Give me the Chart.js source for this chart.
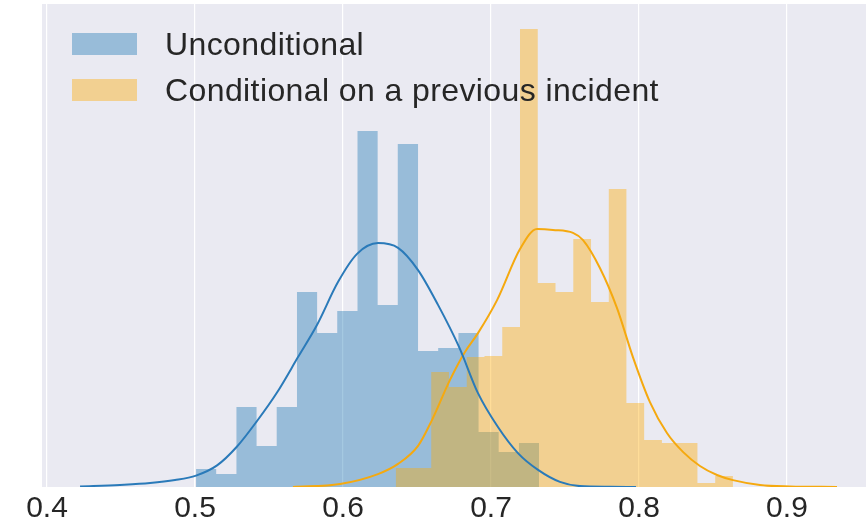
<!DOCTYPE html>
<html lang="en">
<head>
    <meta charset="UTF-8">
    <title>Unconditional vs conditional distribution</title>
    <style>
        body {
            margin: 0;
            background: #ffffff;
            font-family: "Liberation Sans", Arial, sans-serif;
        }
        .wrap {
            position: relative;
            width: 866px;
            height: 523px;
        }
        .legend {
            position: absolute;
            left: 72px;
            top: 21px;
            color: #262626;
            font-size: 32px;
            letter-spacing: 0.4px;
        }
        .legend .item {
            display: flex;
            align-items: center;
            height: 46px;
        }
        .legend .swatch {
            width: 65px;
            height: 22px;
            margin-right: 28px;
        }
    </style>
    <script src="https://cdn.jsdelivr.net/npm/chart.js"></script>
</head>
<body>
    <div class="wrap">
        <canvas id="chart"></canvas>
        <div class="legend">
            <div class="item"><span class="swatch" style="background: rgba(31,119,180,0.4)"></span>Unconditional</div>
            <div class="item"><span class="swatch" style="background: rgba(255,170,0,0.4)"></span>Conditional on a previous incident</div>
        </div>
    </div>

    <script>
        // x tick labels
        const xTicks = [0.4, 0.5, 0.6, 0.7, 0.8, 0.9];

        // unconditional histogram (bin edges and density per bin)
        const blueEdges = [0.5007, 0.5143, 0.5280, 0.5416, 0.5552, 0.5689, 0.5825, 0.5961, 0.6098,
            0.6234, 0.6370, 0.6507, 0.6643, 0.6780, 0.6916, 0.7052, 0.7189, 0.7325];
        const blueHeights = [0.60, 0.43, 2.67, 1.37, 2.67, 6.50, 5.13, 5.87, 11.87,
            6.07, 11.43, 4.53, 4.63, 5.13, 1.83, 1.17, 1.47];

        // conditional histogram
        const yellowEdges = [0.6356, 0.6476, 0.6596, 0.6716, 0.6836, 0.6956, 0.7076, 0.7196, 0.7316, 0.7436,
            0.7556, 0.7676, 0.7796, 0.7915, 0.8035, 0.8155, 0.8275, 0.8395, 0.8515, 0.8635];
        const yellowHeights = [0.63, 0.63, 3.83, 3.33, 4.33, 4.37, 5.33, 15.27, 6.80, 6.50,
            8.27, 6.17, 9.93, 2.80, 1.57, 1.47, 1.47, 0.13, 0.37];

        // kde curves
        const blueKdeX = [0.4223, 0.4493, 0.4696, 0.4865, 0.5007, 0.5149, 0.5284, 0.5419, 0.5554, 0.5696,
            0.5824, 0.5966, 0.6095, 0.6236, 0.6372, 0.6507, 0.6642, 0.6784, 0.6912, 0.7047,
            0.7182, 0.7318, 0.7466, 0.7601, 0.7804, 0.7980];
        const blueKdeY = [0.02, 0.07, 0.13, 0.23, 0.38, 0.72, 1.35, 2.20, 3.15, 4.33,
            5.40, 6.83, 7.77, 8.13, 7.97, 7.23, 6.07, 4.67, 3.13, 2.00,
            1.13, 0.57, 0.17, 0.03, 0.01, 0.00];

        const yellowKdeX = [0.5662, 0.5980, 0.6236, 0.6372, 0.6507, 0.6601, 0.6723, 0.6824, 0.6912, 0.7041,
            0.7196, 0.7311, 0.7419, 0.7554, 0.7622, 0.7736, 0.7851, 0.7959, 0.8074, 0.8189,
            0.8297, 0.8412, 0.8527, 0.8635, 0.8818, 0.9020, 0.9338];
        const yellowKdeY = [0.00, 0.10, 0.43, 0.77, 1.37, 2.23, 3.57, 4.50, 5.13, 6.23,
            7.93, 8.60, 8.57, 8.47, 8.23, 7.30, 5.97, 4.33, 2.83, 1.80,
            1.17, 0.70, 0.40, 0.23, 0.07, 0.02, 0.00];

        function histPoints(edges, heights) {
            const pts = heights.map((h, i) => ({ x: edges[i], y: h }));
            pts.push({ x: edges[edges.length - 1], y: 0 });
            return pts;
        }

        function curvePoints(xs, ys) {
            return xs.map((x, i) => ({ x: x, y: ys[i] }));
        }

        const plotBackground = {
            id: 'plotBackground',
            beforeDraw(chart) {
                const { ctx, chartArea } = chart;
                ctx.save();
                ctx.fillStyle = '#eaeaf2';
                ctx.fillRect(chartArea.left, chartArea.top, chartArea.right - chartArea.left, chartArea.bottom - chartArea.top);
                ctx.restore();
            }
        };

        Chart.defaults.font.family = '"Liberation Sans", Arial, sans-serif';

        new Chart(document.getElementById('chart'), {
            type: 'line',
            data: {
                datasets: [
                    {
                        label: 'Unconditional KDE',
                        data: curvePoints(blueKdeX, blueKdeY),
                        borderColor: '#2a7ab9',
                        borderWidth: 2,
                        pointRadius: 0,
                        cubicInterpolationMode: 'monotone',
                        fill: false,
                        order: 0
                    },
                    {
                        label: 'Conditional KDE',
                        data: curvePoints(yellowKdeX, yellowKdeY),
                        borderColor: '#f5a90f',
                        borderWidth: 2,
                        pointRadius: 0,
                        cubicInterpolationMode: 'monotone',
                        fill: false,
                        order: 1
                    },
                    {
                        label: 'Conditional on a previous incident',
                        data: histPoints(yellowEdges, yellowHeights),
                        stepped: true,
                        borderWidth: 0,
                        pointRadius: 0,
                        backgroundColor: 'rgba(255,170,0,0.4)',
                        fill: 'origin',
                        order: 2
                    },
                    {
                        label: 'Unconditional',
                        data: histPoints(blueEdges, blueHeights),
                        stepped: true,
                        borderWidth: 0,
                        pointRadius: 0,
                        backgroundColor: 'rgba(31,119,180,0.4)',
                        fill: 'origin',
                        order: 3
                    }
                ]
            },
            options: {
                responsive: true,
                maintainAspectRatio: false,
                animation: false,
                layout: {
                    padding: { left: 42, top: 4, right: 0, bottom: 0 }
                },
                plugins: {
                    legend: { display: false },
                    tooltip: { enabled: false }
                },
                scales: {
                    x: {
                        type: 'linear',
                        min: 0.3966,
                        max: 0.9534,
                        afterBuildTicks: scale => {
                            scale.ticks = xTicks.map(v => ({ value: v }));
                        },
                        afterFit: scale => {
                            scale.height = 36;
                        },
                        grid: {
                            color: '#ffffff',
                            lineWidth: 1.2,
                            drawTicks: false
                        },
                        border: { display: false },
                        ticks: {
                            padding: 4,
                            color: '#262626',
                            font: { size: 30 },
                            maxRotation: 0,
                            callback: v => v.toFixed(1)
                        }
                    },
                    y: {
                        display: false,
                        min: 0,
                        max: 16.1
                    }
                }
            },
            plugins: [plotBackground]
        });
    </script>
</body>
</html>
